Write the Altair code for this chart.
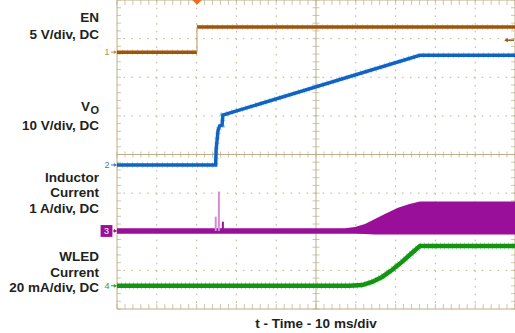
import altair as alt
import pandas as pd

# ---------------- data (scope divisions: x 0..10, y -4..4) ----------------
grid_x_dotted = [1, 2, 3, 4, 6, 7, 8, 9]
grid_y_dotted = [-3, -2, -1, 1, 2, 3]
frame_x = [0, 5, 10]
frame_y = [-4, 0, 4]
minor_x = [round(i * 0.2, 1) for i in range(51)]
minor_y = [round(-4 + i * 0.2, 1) for i in range(41)]

# CH1 EN
en_x = [0, 2.01, 2.01, 10]
en_y = [2.65, 2.65, 3.30, 3.30]
en_seg = [0, 0, 1, 1]

# CH2 VO
vo_x = [0, 2.48, 2.49, 2.54, 2.58, 2.64, 2.66, 7.61, 10]
vo_y = [-0.27, -0.27, 0.12, 0.63, 0.74, 0.76, 1.02, 2.57, 2.57]

# CH3 inductor current (envelope)
il_x = [0, 5.73, 5.98, 6.23, 6.48, 6.73, 7.06, 7.35, 7.61, 10]
il_hi = [-1.91, -1.91, -1.88, -1.80, -1.67, -1.54, -1.38, -1.28, -1.22, -1.22]
il_lo = [-2.05, -2.05, -2.05, -2.06, -2.07, -2.07, -2.07, -2.07, -2.07, -2.07]
spike_x = [2.48, 2.56, 2.66]
spike_top = [-1.61, -0.96, -1.74]
spike_kind = ["light", "light", "dark"]
il_base = -1.98

# CH4 WLED current
wled_x = [0, 5.85, 6.16, 6.41, 6.66, 6.91, 7.16, 7.41, 7.61, 10]
wled_y = [-3.40, -3.40, -3.38, -3.30, -3.17, -2.99, -2.78, -2.55, -2.37, -2.37]

# labels
label_text = ["EN", "5 V/div, DC", "10 V/div, DC", "Inductor", "Current",
              "1 A/div, DC", "WLED", "Current", "20 mA/div, DC"]
label_y = [3.43, 3.00, 0.634, -0.704, -1.108, -1.507, -2.75, -3.164, -3.552]
vo_main, vo_sub = "V", "O"
vo_main_y, vo_sub_y = 1.126, 1.049
x_title = "t - Time - 10 ms/div"
x_title_y = -4.479

ch_names = ["1", "2", "4"]
ch_level = [2.65, -0.27, -3.40]
ch_colors = ["#c98a4e", "#3f7ccc", "#2ea02e"]
ch3_name, ch3_level = "3", -1.98
trig_x = 2.01
trig_level = 2.96

# ---------------- styling ----------------
GRID = "#bcae88"
FONT = "Liberation Sans"
TXT = "#231f20"
xs = alt.Scale(domain=[0, 10], nice=False, zero=False)
ys = alt.Scale(domain=[-4, 4], nice=False, zero=False)


def X(f):
    return alt.X(f, type="quantitative", scale=xs, axis=None)


def Y(f):
    return alt.Y(f, type="quantitative", scale=ys, axis=None)


layers = []

# dotted grid
layers.append(alt.Chart(pd.DataFrame({"x": grid_x_dotted})).mark_rule(
    color=GRID, strokeWidth=1, strokeDash=[1.5, 6.23]).encode(x=X("x")))
layers.append(alt.Chart(pd.DataFrame({"y": grid_y_dotted})).mark_rule(
    color=GRID, strokeWidth=1, strokeDash=[1.5, 6.46]).encode(y=Y("y")))
# solid frame / centre lines
layers.append(alt.Chart(pd.DataFrame({"x": frame_x})).mark_rule(
    color=GRID, strokeWidth=1).encode(x=X("x")))
layers.append(alt.Chart(pd.DataFrame({"y": frame_y})).mark_rule(
    color=GRID, strokeWidth=1).encode(y=Y("y")))

mx = pd.DataFrame({"x": minor_x})
my = pd.DataFrame({"y": minor_y})
# centre ticks
layers.append(alt.Chart(mx).mark_tick(orient="vertical", size=6, thickness=1, color=GRID)
              .encode(x=X("x"), y=alt.Y(datum=0, scale=ys, axis=None)))
layers.append(alt.Chart(my).mark_tick(orient="horizontal", size=7, thickness=1, color=GRID)
              .encode(y=Y("y"), x=alt.X(datum=5, scale=xs, axis=None)))
# border ticks (inward)
layers.append(alt.Chart(my).mark_tick(orient="horizontal", size=4, thickness=1, color=GRID, xOffset=2)
              .encode(y=Y("y"), x=alt.X(datum=0, scale=xs, axis=None)))
layers.append(alt.Chart(my).mark_tick(orient="horizontal", size=4, thickness=1, color=GRID, xOffset=-2)
              .encode(y=Y("y"), x=alt.X(datum=10, scale=xs, axis=None)))
layers.append(alt.Chart(mx).mark_tick(orient="vertical", size=5, thickness=1, color=GRID, yOffset=-2.5)
              .encode(x=X("x"), y=alt.Y(datum=-4, scale=ys, axis=None)))
layers.append(alt.Chart(mx).mark_tick(orient="vertical", size=5, thickness=1, color=GRID, yOffset=2.5)
              .encode(x=X("x"), y=alt.Y(datum=4, scale=ys, axis=None)))

# ---- traces ----
en_df = pd.DataFrame({"x": en_x, "y": en_y, "s": en_seg})
layers.append(alt.Chart(en_df).mark_line(color="#dcc626", strokeWidth=6, strokeDash=[0.8, 4.2], opacity=0.6)
              .encode(x=X("x"), y=Y("y"), detail="s:N"))
layers.append(alt.Chart(en_df).mark_line(color="#a0520f", strokeWidth=3.5)
              .encode(x=X("x"), y=Y("y"), detail="s:N"))
layers.append(alt.Chart(pd.DataFrame({"x": [trig_x], "y": [en_y[1]], "y2": [en_y[2]]}))
              .mark_rule(color="#c9a46e", strokeWidth=1.2)
              .encode(x=X("x"), y=Y("y"), y2="y2"))

vo_df = pd.DataFrame({"x": vo_x, "y": vo_y})
layers.append(alt.Chart(vo_df).mark_line(color="#3fc6e6", strokeWidth=6, strokeDash=[0.8, 4.2], opacity=0.6)
              .encode(x=X("x"), y=Y("y")))
layers.append(alt.Chart(vo_df).mark_line(color="#1262c4", strokeWidth=3.5)
              .encode(x=X("x"), y=Y("y")))

il_df = pd.DataFrame({"x": il_x, "hi": il_hi, "lo": il_lo})
layers.append(alt.Chart(il_df).mark_area(color="#9a0f9a", opacity=1)
              .encode(x=X("x"), y=Y("hi"), y2="lo"))
sp_df = pd.DataFrame({"x": spike_x, "top": spike_top, "base": [il_base] * 3, "k": spike_kind})
layers.append(alt.Chart(sp_df).mark_rule(strokeWidth=2)
              .encode(x=X("x"), y=Y("top"), y2="base",
                      color=alt.Color("k:N", scale=alt.Scale(domain=["light", "dark"],
                                                            range=["#d58bd6", "#9a0f9a"]), legend=None)))

w_df = pd.DataFrame({"x": wled_x, "y": wled_y})
layers.append(alt.Chart(w_df).mark_line(color="#3cc43c", strokeWidth=7, strokeDash=[0.8, 3.2], opacity=0.55)
              .encode(x=X("x"), y=Y("y")))
layers.append(alt.Chart(w_df).mark_line(color="#139513", strokeWidth=4.5)
              .encode(x=X("x"), y=Y("y")))

# trigger position marker (top) and trigger level (right)
layers.append(alt.Chart(pd.DataFrame({"x": [trig_x], "y": [4]}))
              .mark_point(shape="diamond", filled=True, size=90, color="#f26a21", opacity=1)
              .encode(x=X("x"), y=Y("y")))
tl = pd.DataFrame({"y": [trig_level]})
layers.append(alt.Chart(tl).mark_rule(color="#a0520f", strokeWidth=1.5)
              .encode(y=Y("y"), x=alt.value(390), x2=alt.value(397)))
layers.append(alt.Chart(tl).mark_point(shape="triangle-left", filled=True, size=18, color="#a0520f", opacity=1)
              .encode(y=Y("y"), x=alt.value(389)))

# channel markers at left
ch_df = pd.DataFrame({"n": ch_names, "y": ch_level, "c": ch_colors})
layers.append(alt.Chart(ch_df).mark_text(font=FONT, fontSize=9, align="center", baseline="middle")
              .encode(y=Y("y"), x=alt.value(-10), text="n:N", color=alt.Color("c:N", scale=None)))
layers.append(alt.Chart(ch_df).mark_rule(strokeWidth=1)
              .encode(y=Y("y"), x=alt.value(-6), x2=alt.value(-1), color=alt.Color("c:N", scale=None)))
layers.append(alt.Chart(ch_df).mark_point(shape="triangle-right", filled=True, size=14, opacity=1)
              .encode(y=Y("y"), x=alt.value(-1.5), color=alt.Color("c:N", scale=None)))
c3 = pd.DataFrame({"n": [ch3_name], "y": [ch3_level]})
layers.append(alt.Chart(c3).mark_point(shape="square", filled=True, size=140, color="#9a0f9a", opacity=1)
              .encode(y=Y("y"), x=alt.value(-10.5)))
layers.append(alt.Chart(c3).mark_text(font=FONT, fontSize=9, color="white", align="center", baseline="middle")
              .encode(y=Y("y"), x=alt.value(-10.5), text="n:N"))
layers.append(alt.Chart(c3).mark_rule(strokeWidth=1, color="#9a0f9a")
              .encode(y=Y("y"), x=alt.value(-4), x2=alt.value(-1)))
layers.append(alt.Chart(c3).mark_point(shape="triangle-right", filled=True, size=14, opacity=1, color="#9a0f9a")
              .encode(y=Y("y"), x=alt.value(-1.5)))

# text labels
lab_df = pd.DataFrame({"t": label_text, "y": label_y})
layers.append(alt.Chart(lab_df).mark_text(font=FONT, fontSize=13.5, fontWeight="bold", color=TXT,
                                          align="right", baseline="alphabetic")
              .encode(y=Y("y"), x=alt.value(-18), text="t:N"))
layers.append(alt.Chart(pd.DataFrame({"t": [vo_main], "y": [vo_main_y]}))
              .mark_text(font=FONT, fontSize=13.5, fontWeight="bold", color=TXT, align="right", baseline="alphabetic")
              .encode(y=Y("y"), x=alt.value(-27), text="t:N"))
layers.append(alt.Chart(pd.DataFrame({"t": [vo_sub], "y": [vo_sub_y]}))
              .mark_text(font=FONT, fontSize=11, fontWeight="bold", color=TXT, align="right", baseline="alphabetic")
              .encode(y=Y("y"), x=alt.value(-18), text="t:N"))
layers.append(alt.Chart(pd.DataFrame({"t": [x_title], "x": [5], "y": [x_title_y]}))
              .mark_text(font=FONT, fontSize=13.5, fontWeight="bold", color=TXT, align="center", baseline="alphabetic")
              .encode(y=Y("y"), x=X("x"), text="t:N"))

chart = alt.layer(*layers).properties(
    width=398, height=309,
    padding={"left": 117, "top": 0, "right": 0, "bottom": 24},
    autosize=alt.AutoSizeParams(type="none"),
    background="white",
).configure_view(stroke=None)

chart.save("out.html", embed_options={"renderer": "svg", "actions": False})
